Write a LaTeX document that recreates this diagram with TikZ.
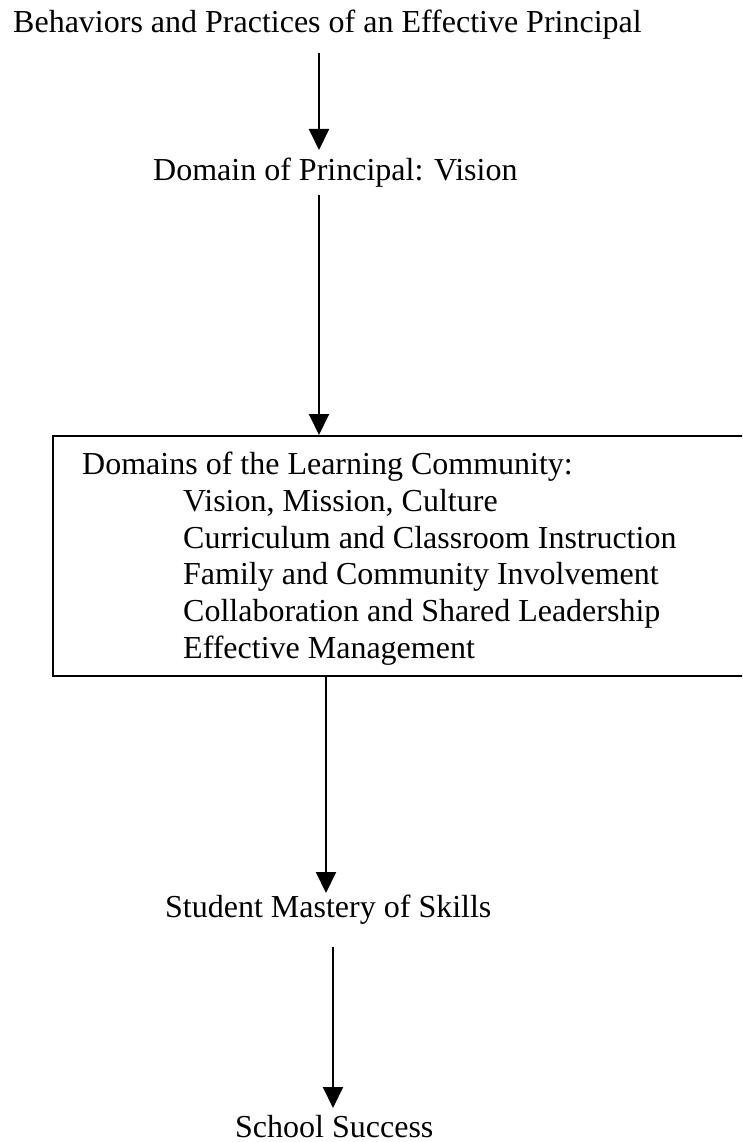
\documentclass[tikz,border=0pt]{standalone}
\usepackage{fontspec}
\setmainfont{Liberation Serif}
\usetikzlibrary{arrows.meta}
\begin{document}
\begin{tikzpicture}[x=1pt,y=-1pt,
  txt/.style={inner sep=0pt, anchor=base west, font=\fontsize{32}{36.8}\selectfont},
  flow/.style={line width=2pt, -{Triangle[length=21pt,width=20pt]}},
  frame/.style={draw, line width=2pt, inner sep=0pt, anchor=north west,
                minimum width=760pt, minimum height=240pt}]
\clip (0,0) rectangle (742,1142);

% text blocks
\node[txt] (title) at (13,33) {Behaviors and Practices of an Effective Principal};
\node[txt] (vision) at (153,180) {Domain of Principal: Vision};
\node[frame] (box) at (52,435) {};
\node[txt] (dhead) at (82,474.4) {Domains of the Learning Community:};
\node[txt] (d1) at (183,511.2) {Vision, Mission, Culture};
\node[txt] (d2) at (183,548.0) {Curriculum and Classroom Instruction};
\node[txt] (d3) at (183,584.8) {Family and Community Involvement};
\node[txt] (d4) at (183,621.6) {Collaboration and Shared Leadership};
\node[txt] (d5) at (183,658.4) {Effective Management};
\node[txt] (mastery) at (165,917) {Student Mastery of Skills};
\node[txt] (success) at (235,1137) {School Success};

% arrow end points
\coordinate (a1s) at (319,53);
\coordinate (a1e) at (319,150);
\coordinate (a2s) at (319,195);
\coordinate (a3s) at (326,675);
\coordinate (a3e) at (326,893);
\coordinate (a4s) at (333,947);
\coordinate (a4e) at (333,1108);

% connectors
\draw[flow] (a1s) -- (a1e);
\draw[flow] (a2s) -- (a2s |- box.north);
\draw[flow] (a3s |- box.south) -- (a3e);
\draw[flow] (a4s) -- (a4e);
\end{tikzpicture}
\end{document}
